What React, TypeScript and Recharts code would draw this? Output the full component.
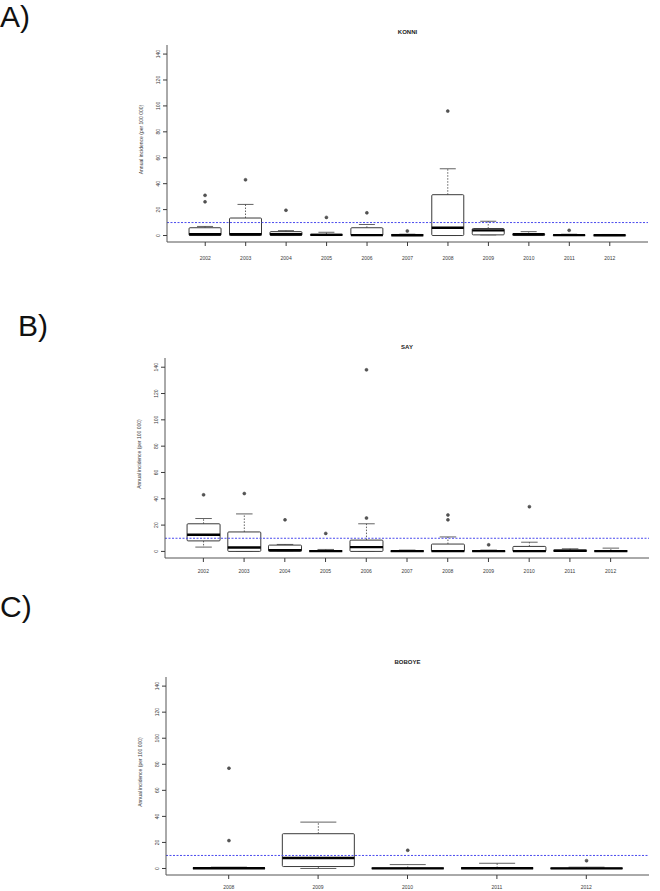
import React from 'react';
import { ComposedChart, Bar, XAxis, YAxis, ReferenceLine } from 'recharts';

// shared y scale (annual incidence per 100 000)
const Y_MIN = -5;
const Y_MAX = 147;
const yTicks = [0, 20, 40, 60, 80, 100, 120, 140];
const epidemicThreshold = 10;

// A) KONNI
const konniYears = ['2002', '2003', '2004', '2005', '2006', '2007', '2008', '2009', '2010', '2011', '2012'];
const konniLo = [0, 0, 0, 0, 0, 0, 0, 0.5, 0, 0, 0];
const konniQ1 = [0, 0, 0, 0, 0, 0, 0, 0.5, 0, 0, 0];
const konniMed = [1, 1, 1, 0.5, 0.3, 0.2, 6, 4, 1, 0.3, 0.2];
const konniQ3 = [6, 13.5, 3, 1, 6, 0.8, 31.5, 5.4, 1.2, 0.6, 0.5];
const konniHi = [7, 24, 3.8, 2.5, 8.5, 1, 51.5, 11, 3, 1, 0.8];
const konniOut = [[26, 31], [43], [19.5], [14], [17.5], [3.5], [96], [], [], [4], []];

// B) SAY
const sayYears = ['2002', '2003', '2004', '2005', '2006', '2007', '2008', '2009', '2010', '2011', '2012'];
const sayLo = [3.3, 0, 0, 0, 0, 0, 0, 0, 0, 0, 0];
const sayQ1 = [8, 0, 0, 0, 0, 0, 0, 0, 0, 0, 0];
const sayMed = [12.7, 3, 1, 0.2, 3.3, 0.2, 0.2, 0.2, 0.2, 0.5, 0.2];
const sayQ3 = [21, 14.8, 4.8, 0.6, 8.6, 0.5, 5.6, 0.5, 3.8, 1, 0.6];
const sayHi = [25, 28.5, 5.3, 1.5, 21, 1, 11, 1, 7, 2, 2.5];
const sayOut = [[43], [44], [24], [13.7], [25.4, 138], [], [24, 27.7], [5], [34], [], []];

// C) BOBOYE
const boboyeYears = ['2008', '2009', '2010', '2011', '2012'];
const boboyeLo = [0, 0, 0, 0, 0];
const boboyeQ1 = [0, 1.5, 0, 0, 0];
const boboyeMed = [0.2, 8, 0.1, 0.2, 0.1];
const boboyeQ3 = [0.5, 26.7, 0.4, 0.4, 0.3];
const boboyeHi = [1, 35.6, 3, 4, 1];
const boboyeOut = [[21.4, 77], [], [14], [], [6]];

type Row = { year: string; lo: number; q1: number; med: number; q3: number; hi: number; out: number[]; span: [number, number] };

function buildRows(years: string[], lo: number[], q1: number[], med: number[], q3: number[], hi: number[], out: number[][]): Row[] {
  return years.map((year, i) => ({ year, lo: lo[i], q1: q1[i], med: med[i], q3: q3[i], hi: hi[i], out: out[i], span: [Y_MIN, Y_MAX] }));
}

const INK = '#3a3a3a';

// the bar spans the whole y domain, so its rect gives the scale for the box parts
function BoxShape(props: any) {
  const { x, y, width, height, payload } = props;
  const py = (v: number) => y + ((Y_MAX - v) / (Y_MAX - Y_MIN)) * height;
  const cx = x + width / 2;
  const cap = width / 4;
  const d = payload as Row;
  return (
    <g>
      <line x1={cx} x2={cx} y1={py(d.q3)} y2={py(d.hi)} stroke={INK} strokeWidth={0.8} strokeDasharray="1.5 1.5" />
      <line x1={cx} x2={cx} y1={py(d.q1)} y2={py(d.lo)} stroke={INK} strokeWidth={0.8} strokeDasharray="1.5 1.5" />
      <line x1={cx - cap} x2={cx + cap} y1={py(d.hi)} y2={py(d.hi)} stroke={INK} strokeWidth={0.8} />
      <line x1={cx - cap} x2={cx + cap} y1={py(d.lo)} y2={py(d.lo)} stroke={INK} strokeWidth={0.8} />
      <rect x={x} y={py(d.q3)} width={width} height={Math.max(0.5, py(d.q1) - py(d.q3))} fill="#fff" stroke={INK} strokeWidth={1} rx={1} />
      <line x1={x} x2={x + width} y1={py(d.med)} y2={py(d.med)} stroke="#000" strokeWidth={2.4} />
      {d.out.map((v, k) => (
        <circle key={k} cx={cx} cy={py(v)} r={1.5} fill="#555" stroke={INK} strokeWidth={0.5} />
      ))}
    </g>
  );
}

function YTick(props: any) {
  const { x, y, payload } = props;
  return (
    <text x={x} y={y} transform={`rotate(-90 ${x} ${y})`} textAnchor="middle" fontSize={5} fill={INK} fontFamily="Liberation Sans, Arial, sans-serif">
      {payload.value}
    </text>
  );
}

function YTitle(props: any) {
  const vb = props.viewBox || {};
  const tx = vb.x + 6;
  const ty = vb.y + vb.height / 2 - 4;
  return (
    <text x={tx} y={ty} transform={`rotate(-90 ${tx} ${ty})`} textAnchor="middle" fontSize={5} fill={INK} fontFamily="Liberation Sans, Arial, sans-serif">
      Annual incidence (per 100 000)
    </text>
  );
}

type PanelProps = {
  rows: Row[];
  top: number;
  height: number;
  plotTop: number;
  plotBottom: number;
  plotLeft: number;
  plotRight: number;
  tickMargin: number;
  title: string;
  titleY: number;
};

function BoxPanel({ rows, top, height, plotTop, plotBottom, plotLeft, plotRight, tickMargin, title, titleY }: PanelProps) {
  const yAxisW = 30;
  const xAxisH = 20;
  const margin = {
    top: plotTop - top,
    left: plotLeft - yAxisW,
    right: 660 - plotRight,
    bottom: top + height - plotBottom - xAxisH,
  };
  return (
    <div style={{ position: 'absolute', left: 0, top, width: 660, height }}>
      <div
        style={{
          position: 'absolute',
          left: (plotLeft + plotRight) / 2,
          top: titleY - top,
          transform: 'translate(-50%, -50%)',
          fontFamily: 'Liberation Sans, Arial, sans-serif',
          fontWeight: 700,
          fontSize: 6,
          color: '#222',
          whiteSpace: 'nowrap',
        }}
      >
        {title}
      </div>
      <ComposedChart width={660} height={height} data={rows} margin={margin} barCategoryGap="10%">
        <XAxis
          dataKey="year"
          interval={0}
          padding={{ left: 18, right: 18 }}
          height={xAxisH}
          tickSize={4}
          tickMargin={tickMargin}
          tick={{ fontSize: 5, fill: INK, fontFamily: 'Liberation Sans, Arial, sans-serif' }}
          tickLine={{ stroke: INK }}
          axisLine={{ stroke: '#555' }}
        />
        <XAxis
          xAxisId="top"
          orientation="top"
          dataKey="year"
          height={0}
          tick={false}
          tickLine={false}
          axisLine={{ stroke: '#555' }}
        />
        <YAxis
          type="number"
          domain={[Y_MIN, Y_MAX]}
          allowDataOverflow
          ticks={yTicks}
          width={yAxisW}
          tickSize={4}
          tickMargin={3}
          tick={<YTick />}
          tickLine={{ stroke: INK }}
          axisLine={{ stroke: '#555' }}
          label={<YTitle />}
        />
        <YAxis
          yAxisId="right"
          orientation="right"
          type="number"
          domain={[Y_MIN, Y_MAX]}
          width={0}
          tick={false}
          tickLine={false}
          axisLine={{ stroke: '#555' }}
        />
        <Bar dataKey="span" shape={<BoxShape />} isAnimationActive={false} />
        <ReferenceLine y={epidemicThreshold} stroke="#4a4aee" strokeWidth={1} strokeDasharray="2 1.5" />
      </ComposedChart>
    </div>
  );
}

const letterStyle: React.CSSProperties = {
  position: 'absolute',
  fontFamily: 'Liberation Sans, Arial, sans-serif',
  fontSize: 30,
  lineHeight: 'normal',
  color: '#111',
};

export default function App() {
  const konni = buildRows(konniYears, konniLo, konniQ1, konniMed, konniQ3, konniHi, konniOut);
  const say = buildRows(sayYears, sayLo, sayQ1, sayMed, sayQ3, sayHi, sayOut);
  const boboye = buildRows(boboyeYears, boboyeLo, boboyeQ1, boboyeMed, boboyeQ3, boboyeHi, boboyeOut);
  return (
    <div style={{ position: 'absolute', left: 0, top: 0, width: 660, height: 891, background: '#fff', overflow: 'hidden' }}>
      <BoxPanel rows={konni} top={0} height={300} plotTop={45} plotBottom={242} plotLeft={167} plotRight={648} tickMargin={10} title="KONNI" titleY={32} />
      <BoxPanel rows={say} top={300} height={300} plotTop={358} plotBottom={558} plotLeft={165} plotRight={649} tickMargin={7} title="SAY" titleY={347} />
      <BoxPanel rows={boboye} top={600} height={291} plotTop={677} plotBottom={875} plotLeft={166} plotRight={649} tickMargin={6} title="BOBOYE" titleY={662} />
      <div style={{ ...letterStyle, left: 0, top: 0 }}>A)</div>
      <div style={{ ...letterStyle, left: 18, top: 309 }}>B)</div>
      <div style={{ ...letterStyle, left: 0, top: 590 }}>C)</div>
    </div>
  );
}
